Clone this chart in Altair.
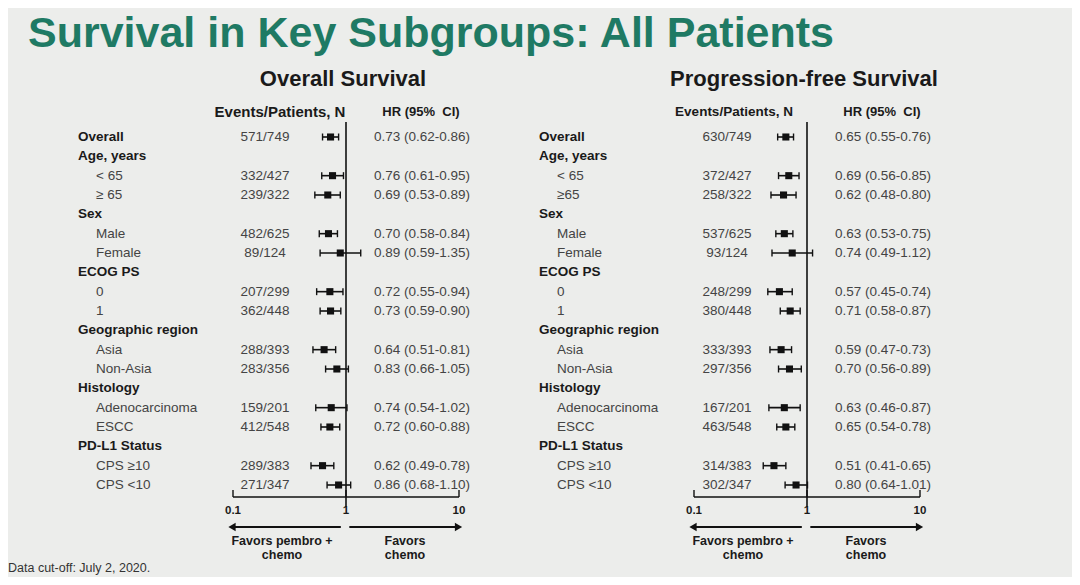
import altair as alt
import pandas as pd

FONT = "Liberation Sans"

# ---------------- data ----------------
row_ids = ["overall", "age", "age_lt65", "age_ge65", "sex", "male", "female",
           "ecog", "ecog0", "ecog1", "geo", "asia", "nonasia", "hist", "adeno",
           "escc", "pdl1", "cps_ge10", "cps_lt10"]
labels_os = ["Overall", "Age, years", "< 65", "\u2265 65", "Sex", "Male", "Female",
             "ECOG PS", "0", "1", "Geographic region", "Asia", "Non-Asia", "Histology",
             "Adenocarcinoma", "ESCC", "PD-L1 Status", "CPS \u226510", "CPS <10"]
labels_pfs = ["Overall", "Age, years", "< 65", "\u226565", "Sex", "Male", "Female",
              "ECOG PS", "0", "1", "Geographic region", "Asia", "Non-Asia", "Histology",
              "Adenocarcinoma", "ESCC", "PD-L1 Status", "CPS \u226510", "CPS <10"]
bold_rows = ["overall", "age", "sex", "ecog", "geo", "hist", "pdl1"]

data_rows = ["overall", "age_lt65", "age_ge65", "male", "female", "ecog0", "ecog1",
             "asia", "nonasia", "adeno", "escc", "cps_ge10", "cps_lt10"]

os_events = ["571/749", "332/427", "239/322", "482/625", "89/124", "207/299", "362/448",
             "288/393", "283/356", "159/201", "412/548", "289/383", "271/347"]
os_hr = [0.73, 0.76, 0.69, 0.70, 0.89, 0.72, 0.73, 0.64, 0.83, 0.74, 0.72, 0.62, 0.86]
os_lo = [0.62, 0.61, 0.53, 0.58, 0.59, 0.55, 0.59, 0.51, 0.66, 0.54, 0.60, 0.49, 0.68]
os_hi = [0.86, 0.95, 0.89, 0.84, 1.35, 0.94, 0.90, 0.81, 1.05, 1.02, 0.88, 0.78, 1.10]

pfs_events = ["630/749", "372/427", "258/322", "537/625", "93/124", "248/299", "380/448",
              "333/393", "297/356", "167/201", "463/548", "314/383", "302/347"]
pfs_hr = [0.65, 0.69, 0.62, 0.63, 0.74, 0.57, 0.71, 0.59, 0.70, 0.63, 0.65, 0.51, 0.80]
pfs_lo = [0.55, 0.56, 0.48, 0.53, 0.49, 0.45, 0.58, 0.47, 0.56, 0.46, 0.54, 0.41, 0.64]
pfs_hi = [0.76, 0.85, 0.80, 0.75, 1.12, 0.74, 0.87, 0.73, 0.89, 0.87, 0.78, 0.65, 1.01]

tick_values = [0.1, 1, 10]
tick_labels = ["0.1", "1", "10"]
arrow_from = [0.9, 1.07]
arrow_to = [0.098, 9.9]
arrow_shape = ["triangle-left", "triangle-right"]

TEXT_DARK = "#1a1a1a"
TEXT_GREY = "#444444"
INK = "#111111"

Y = alt.Y("row:N", sort=row_ids,
          scale=alt.Scale(type="point", range=[129, 477], padding=0), axis=None)


def side(x0, x1, labels, events, hr, lo, hi, title, ev_rel, evh_rel, evh_size):
    xs = alt.Scale(type="log", domain=[0.1, 10], range=[x0, x1])

    def X(f):
        return alt.X(f, type="quantitative", scale=xs, axis=None)

    lab = pd.DataFrame({"row": row_ids, "label": labels,
                        "bold": [r in bold_rows for r in row_ids]})
    d = pd.DataFrame({"row": data_rows, "events": events, "hr": hr, "lo": lo, "hi": hi})
    d["hrtxt"] = [f"{a:.2f} ({b:.2f}-{c:.2f})" for a, b, c in zip(hr, lo, hi)]

    head_lab = alt.Chart(lab[lab["bold"]]).mark_text(
        align="left", baseline="middle", font=FONT, fontSize=13.5,
        fontWeight="bold", color=TEXT_DARK
    ).encode(x=alt.value(x0 - 155), y=Y, text="label:N")
    sub_lab = alt.Chart(lab[~lab["bold"]]).mark_text(
        align="left", baseline="middle", font=FONT, fontSize=13.5, color=TEXT_GREY
    ).encode(x=alt.value(x0 - 137), y=Y, text="label:N")
    ev = alt.Chart(d).mark_text(
        align="center", baseline="middle", font=FONT, fontSize=13.5, color=TEXT_GREY
    ).encode(x=alt.value(x0 + ev_rel), y=Y, text="events:N")
    hrt = alt.Chart(d).mark_text(
        align="left", baseline="middle", font=FONT, fontSize=13.5, color=TEXT_GREY
    ).encode(x=alt.value(x0 + 141), y=Y, text="hrtxt:N")

    ci = alt.Chart(d).mark_rule(color=INK, strokeWidth=1.6).encode(
        x=X("lo"), x2="hi", y=Y)
    cap_lo = alt.Chart(d).mark_tick(color=INK, size=7, thickness=1.4, opacity=1).encode(
        x=X("lo"), y=Y)
    cap_hi = alt.Chart(d).mark_tick(color=INK, size=7, thickness=1.4, opacity=1).encode(
        x=X("hi"), y=Y)
    sq = alt.Chart(d).mark_point(shape="square", filled=True, size=50, color=INK,
                                 opacity=1).encode(x=X("hr"), y=Y)

    ref = alt.Chart(pd.DataFrame({"v": [1.0]})).mark_rule(
        color=INK, strokeWidth=1.6).encode(x=X("v"), y=alt.value(114), y2=alt.value(499))
    ax = alt.Chart(pd.DataFrame({"a": [tick_values[0]], "b": [tick_values[-1]]})).mark_rule(
        color=INK, strokeWidth=1.4).encode(x=X("a"), x2="b", y=alt.value(489))
    tk = pd.DataFrame({"t": tick_values, "lab": tick_labels})
    ticks = alt.Chart(tk).mark_rule(color=INK, strokeWidth=1.4).encode(
        x=X("t"), y=alt.value(482), y2=alt.value(489))
    tlab = alt.Chart(tk).mark_text(
        baseline="middle", align="center", font=FONT, fontSize=11.5,
        fontWeight="bold", color=TEXT_DARK
    ).encode(x=X("t"), y=alt.value(503), text="lab:N")

    ar = pd.DataFrame({"f": arrow_from, "t": arrow_to, "shape": arrow_shape})
    arr = alt.Chart(ar).mark_rule(color=INK, strokeWidth=2).encode(
        x=X("f"), x2="t", y=alt.value(519))
    heads = alt.Chart(ar).mark_point(filled=True, size=70, color=INK, opacity=1).encode(
        x=X("t"), y=alt.value(519),
        shape=alt.Shape("shape:N", scale=None, legend=None))

    fav_l = alt.Chart(pd.DataFrame({"k": [0]})).mark_text(
        align="center", baseline="alphabetic", font=FONT, fontSize=12.5,
        fontWeight="bold", color=TEXT_DARK, lineHeight=14
    ).encode(x=alt.value(x0 + 49), y=alt.value(537),
             text=alt.value(["Favors pembro +", "chemo"]))
    fav_r = alt.Chart(pd.DataFrame({"k": [0]})).mark_text(
        align="center", baseline="alphabetic", font=FONT, fontSize=12.5,
        fontWeight="bold", color=TEXT_DARK, lineHeight=14
    ).encode(x=alt.value(x0 + 172), y=alt.value(537),
             text=alt.value(["Favors", "chemo"]))

    heads_df = pd.DataFrame({"k": [0]})
    evh = alt.Chart(heads_df).mark_text(
        align="center", baseline="middle", font=FONT, fontSize=evh_size,
        fontWeight="bold", color=TEXT_DARK
    ).encode(x=alt.value(x0 + evh_rel), y=alt.value(104),
             text=alt.value("Events/Patients, N"))
    hrh = alt.Chart(heads_df).mark_text(
        align="center", baseline="middle", font=FONT, fontSize=13,
        fontWeight="bold", color=TEXT_DARK
    ).encode(x=alt.value(x0 + 188), y=alt.value(104),
             text=alt.value("HR (95%\u00a0\u00a0CI)"))
    ttl = alt.Chart(heads_df).mark_text(
        align="center", baseline="middle", font=FONT, fontSize=22,
        fontWeight="bold", color=TEXT_DARK
    ).encode(x=alt.value(x0 + 110), y=alt.value(71), text=alt.value(title))

    return alt.layer(head_lab, sub_lab, ev, hrt, ci, cap_lo, cap_hi, sq, ref, ax,
                     ticks, tlab, arr, heads, fav_l, fav_r, evh, hrh, ttl)


left = side(225, 451, labels_os, os_events, os_hr, os_lo, os_hi,
            "Overall Survival", 32, 47, 15)
right = side(686, 912, labels_pfs, pfs_events, pfs_hr, pfs_lo, pfs_hi,
             "Progression-free Survival", 33, 40, 13.5)

one = pd.DataFrame({"k": [0]})
main_title = alt.Chart(one).mark_text(
    align="left", baseline="alphabetic", font=FONT, fontSize=43,
    fontWeight="bold", color="#1f7a64"
).encode(x=alt.value(20), y=alt.value(39),
         text=alt.value("Survival in Key Subgroups: All Patients"))
cutoff = alt.Chart(one).mark_text(
    align="left", baseline="alphabetic", font=FONT, fontSize=12.5, color="#333333"
).encode(x=alt.value(0), y=alt.value(564),
         text=alt.value("Data cut-off: July 2, 2020."))

chart = alt.layer(left, right, main_title, cutoff).resolve_scale(
    x="independent"
).properties(
    width=1064, height=569,
    autosize=alt.AutoSizeParams(type="none"),
    padding=0,
    background="#ecedeb",
).configure_view(stroke=None)

chart.save("out.html", embed_options={"renderer": "svg", "actions": False})
